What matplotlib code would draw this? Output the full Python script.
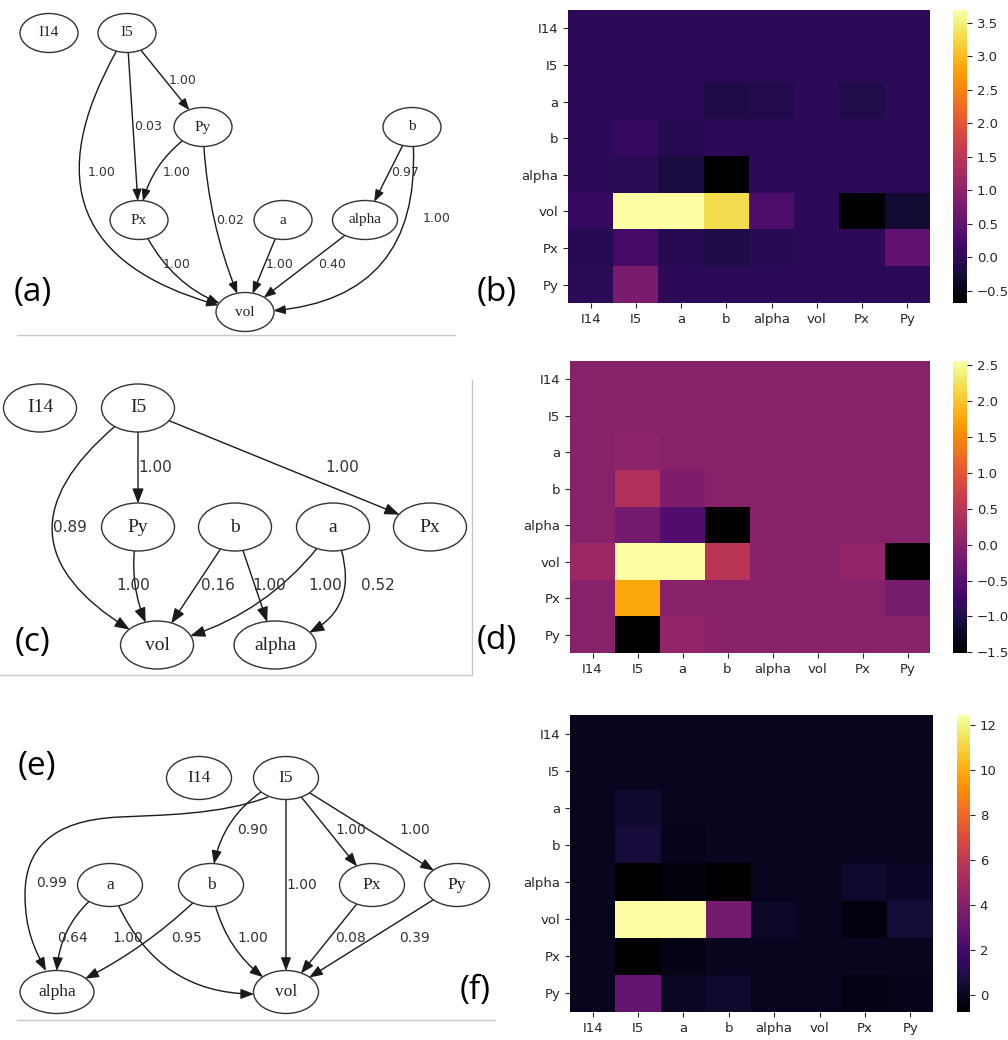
import numpy as np
import matplotlib.pyplot as plt
from matplotlib.patches import Ellipse, FancyArrowPatch
from matplotlib.path import Path

plt.rcParams['font.family'] = 'DejaVu Sans'

variables = ['I14', 'I5', 'a', 'b', 'alpha', 'vol', 'Px', 'Py']

# heatmap values (rows/cols in the order of `variables`)
heat_b = [
    [0.00, 0.00, 0.00, 0.00, 0.00, 0.00, 0.00, 0.00],
    [0.00, 0.00, 0.00, 0.00, 0.00, 0.00, 0.00, 0.00],
    [0.00, 0.00, 0.00, -0.15, -0.10, 0.00, -0.12, 0.00],
    [0.00, 0.10, -0.05, 0.00, 0.00, 0.00, 0.00, 0.00],
    [0.00, -0.03, -0.20, -0.68, 0.00, 0.00, 0.00, 0.00],
    [0.08, 3.69, 3.69, 3.30, 0.30, 0.00, -0.68, -0.30],
    [-0.05, 0.25, -0.05, -0.15, -0.05, 0.00, 0.00, 0.50],
    [-0.03, 0.80, 0.00, 0.00, 0.00, 0.00, 0.00, 0.00],
]
heat_d = [
    [0.00, 0.00, 0.00, 0.00, 0.00, 0.00, 0.00, 0.00],
    [0.00, 0.00, 0.00, 0.00, 0.00, 0.00, 0.00, 0.00],
    [0.00, 0.05, 0.00, 0.00, 0.00, 0.00, 0.00, 0.00],
    [0.00, 0.40, -0.10, 0.00, 0.00, 0.00, 0.00, 0.00],
    [0.00, -0.20, -0.55, -1.51, 0.00, 0.00, 0.00, 0.00],
    [0.20, 2.56, 2.56, 0.50, 0.00, 0.00, 0.10, -1.51],
    [0.00, 1.75, 0.00, 0.00, 0.00, 0.00, 0.00, -0.15],
    [0.00, -1.51, 0.10, 0.00, 0.00, 0.00, 0.00, 0.00],
]
heat_f = [
    [0.00, 0.00, 0.00, 0.00, 0.00, 0.00, 0.00, 0.00],
    [0.00, 0.00, 0.00, 0.00, 0.00, 0.00, 0.00, 0.00],
    [0.00, 0.30, 0.00, 0.00, 0.00, 0.00, 0.00, 0.00],
    [0.00, 0.60, -0.10, 0.00, 0.00, 0.00, 0.00, 0.00],
    [0.00, -0.76, -0.50, -0.76, 0.00, 0.00, 0.30, 0.15],
    [0.00, 12.44, 12.44, 3.50, 0.20, 0.00, -0.40, 0.50],
    [0.00, -0.76, -0.20, 0.00, 0.00, 0.00, 0.00, 0.00],
    [0.00, 3.00, 0.10, 0.30, 0.00, 0.00, -0.30, -0.10],
]

# learned graphs: (source, target, weight)
edges_a = [('I5', 'Py', 1.00), ('I5', 'Px', 0.03), ('I5', 'vol', 1.00),
           ('Py', 'Px', 1.00), ('Py', 'vol', 0.02), ('Px', 'vol', 1.00),
           ('a', 'vol', 1.00), ('alpha', 'vol', 0.40), ('b', 'alpha', 0.97),
           ('b', 'vol', 1.00)]
edges_c = [('I5', 'Py', 1.00), ('I5', 'Px', 1.00), ('I5', 'vol', 0.89),
           ('Py', 'vol', 1.00), ('b', 'vol', 0.16), ('b', 'alpha', 1.00),
           ('a', 'vol', 1.00), ('a', 'alpha', 0.52)]
edges_e = [('I5', 'alpha', 0.99), ('I5', 'b', 0.90), ('I5', 'vol', 1.00),
           ('I5', 'Px', 1.00), ('I5', 'Py', 1.00), ('a', 'alpha', 0.64),
           ('a', 'vol', 1.00), ('b', 'alpha', 0.95), ('b', 'vol', 1.00),
           ('Px', 'vol', 0.08), ('Py', 'vol', 0.39)]

# layout (pixel positions of the graphviz drawings)
nodes_a = {'I14': (49, 33), 'I5': (127, 33), 'Py': (203, 127), 'b': (412, 127),
           'Px': (139, 220), 'a': (283, 220), 'alpha': (365, 220), 'vol': (245, 312)}
nodes_c = {'I14': (40, 408), 'I5': (138, 408), 'Py': (138, 527), 'b': (235, 527),
           'a': (333, 527), 'Px': (430, 527), 'vol': (157, 645), 'alpha': (275, 645)}
nodes_e = {'I14': (199, 778), 'I5': (286, 778), 'a': (110, 885), 'b': (211, 885),
           'Px': (372, 885), 'Py': (457, 885), 'alpha': (57, 992), 'vol': (286, 992)}

bend_a = [0, 0, 0.7, 0.25, 0.1, 0.25, 0, 0, 0, -0.55]
bend_c = [0, 0, 0.8, 0.2, 0, 0, -0.2, -0.6]
bend_e = [0.7, 0.3, 0, 0, 0, 0.3, 0.4, -0.1, 0.25, 0, 0]

# spline routed around I14 in panel (e)
route_e = {0: [(268, 797), (220, 815), (160, 815), (120, 817),
               (50, 820), (25, 850), (25, 895),
               (25, 930), (35, 950), (46, 971)]}

lab_a = [(183, 80), (148, 127), (102, 173), (177, 173), (230, 220),
         (177, 265), (280, 265), (332, 265), (405, 173), (437, 218)]
lab_c = [(155, 467), (342, 467), (70, 527), (133, 585), (218, 585),
         (269, 585), (325, 585), (378, 585)]
lab_e = [(52, 883), (252, 830), (302, 885), (351, 830), (415, 830),
         (73, 938), (128, 938), (187, 938), (253, 938), (350, 938), (415, 938)]

fig = plt.figure(figsize=(10.08, 10.40), dpi=100)
ax = fig.add_axes([0, 0, 1, 1])
ax.set_xlim(0, 1008)
ax.set_ylim(1040, 0)
ax.axis('off')


def draw_graph(nodes, edges, bends, labels, w, h, wide, nfont, lfont, head, routes=None):
    routes = routes or {}
    ells = {}
    for name, (x, y) in nodes.items():
        ew = wide if name == 'alpha' else w
        e = Ellipse((x, y), ew, h, facecolor='white', edgecolor='#333333', lw=1.0, zorder=3)
        ax.add_patch(e)
        ells[name] = e
        ax.text(x, y, name, ha='center', va='center', fontsize=nfont,
                family='Liberation Serif', color='#222222', zorder=4)
    style = '-|>,head_length=1.0,head_width=0.38'
    for i, ((s, t, wgt), r, (lx, ly)) in enumerate(zip(edges, bends, labels)):
        if i in routes:
            pts = routes[i]
            codes = [Path.MOVETO] + [Path.CURVE4] * (len(pts) - 1)
            arr = FancyArrowPatch(path=Path(pts, codes), arrowstyle=style,
                                  mutation_scale=head, lw=1.0, color='#1a1a1a', zorder=2)
        else:
            arr = FancyArrowPatch(nodes[s], nodes[t], patchA=ells[s], patchB=ells[t],
                                  shrinkA=0, shrinkB=0, arrowstyle=style,
                                  mutation_scale=head,
                                  connectionstyle=f'arc3,rad={r}',
                                  lw=1.0, color='#1a1a1a', zorder=2)
        ax.add_patch(arr)
        ax.text(lx, ly, f'{wgt:.2f}', ha='center', va='center', fontsize=lfont,
                color='#333333', zorder=4)


draw_graph(nodes_a, edges_a, bend_a, lab_a, 58, 39, 65, 11, 9, 7)
draw_graph(nodes_c, edges_c, bend_c, lab_c, 73, 48, 82, 14, 11, 9)
draw_graph(nodes_e, edges_e, bend_e, lab_e, 65, 43, 74, 12.5, 10, 8, route_e)

# frame lines around the graph panels
ax.plot([17, 455], [335, 335], color='#c8c8c8', lw=1)
ax.plot([472, 472], [380, 675], color='#c8c8c8', lw=1)
ax.plot([0, 472], [675, 675], color='#c8c8c8', lw=1)
ax.plot([17, 495], [1020, 1020], color='#c8c8c8', lw=1)

for lab, (x, y) in zip(['(a)', '(b)', '(c)', '(d)', '(e)', '(f)'],
                       [(33, 293), (497, 292), (32, 642), (497, 641), (37, 767), (475, 990)]):
    ax.text(x, y, lab, fontsize=24, family='Open Sans', ha='center', va='center', color='black')


def px(l, t, r, b):
    return [l / 1008, 1 - b / 1040, (r - l) / 1008, (b - t) / 1040]


def draw_heat(vals, box, cbox, ticks):
    hax = fig.add_axes(px(*box))
    im = hax.imshow(np.array(vals), cmap='inferno', aspect='auto', interpolation='nearest')
    hax.set_xticks(range(len(variables)))
    hax.set_xticklabels(variables)
    hax.set_yticks(range(len(variables)))
    hax.set_yticklabels(variables)
    hax.tick_params(labelsize=9.5, colors='#262626', length=3.5)
    for sp in hax.spines.values():
        sp.set_visible(False)
    cax = fig.add_axes(px(*cbox))
    cb = fig.colorbar(im, cax=cax, ticks=ticks)
    cb.outline.set_visible(False)
    cax.tick_params(labelsize=9.5, colors='#262626', length=3.5)


draw_heat(heat_b, (568, 10, 930, 303), (953, 10, 967, 303), np.arange(-0.5, 3.6, 0.5))
draw_heat(heat_d, (570, 361, 930, 653), (953, 361, 967, 653), np.arange(-1.5, 2.6, 0.5))
draw_heat(heat_f, (570, 715, 933, 1012), (957, 715, 970, 1012), np.arange(0, 13, 2))

fig.savefig('out.png', dpi=100)
